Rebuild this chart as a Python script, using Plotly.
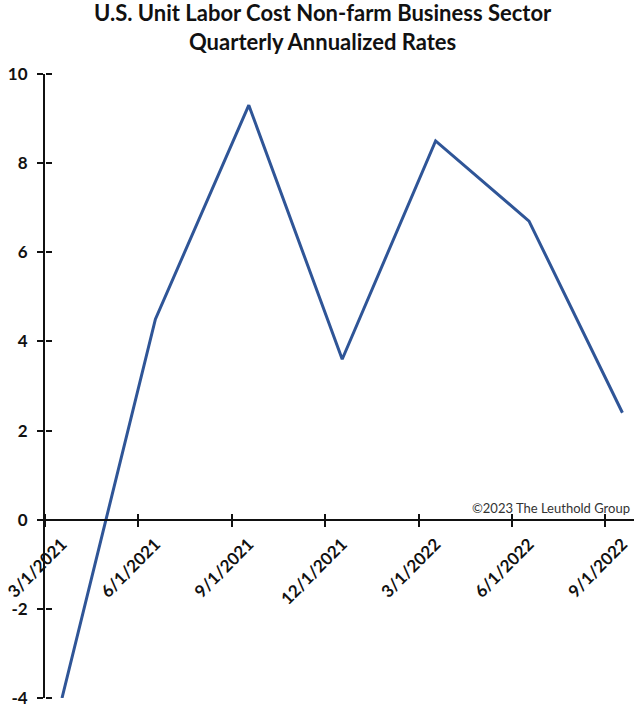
import plotly.graph_objects as go

# Quarterly annualized % change, unit labor cost, non-farm business sector
quarters = ["3/1/2021", "6/1/2021", "9/1/2021", "12/1/2021",
            "3/1/2022", "6/1/2022", "9/1/2022"]
ulc_rate = [-4.0, 4.5, 9.3, 3.6, 8.5, 6.7, 2.4]
y_ticks = [-4, -2, 0, 2, 4, 6, 8, 10]

idx = list(range(len(quarters)))
x_lo, x_hi = -0.182, 6.124
y_lo, y_hi = -4, 10
zero_pos = (0 - y_lo) / (y_hi - y_lo)   # paper position of y = 0
boundary_ticks = [i + x_lo for i in idx]

LINE_BLUE = "#2F5597"
INK = "#111111"
axis_font = dict(family="Lato", size=17, color=INK)

fig = go.Figure()
fig.add_trace(go.Scatter(x=idx, y=ulc_rate, mode="lines",
                         line=dict(color=LINE_BLUE, width=3),
                         showlegend=False, hoverinfo="skip"))
# transparent companions so the extra axes (other half of the crossing
# tick marks) are drawn
fig.add_trace(go.Scatter(x=idx, y=ulc_rate, mode="lines", xaxis="x2", yaxis="y2",
                         line=dict(color="rgba(0,0,0,0)", width=0),
                         showlegend=False, hoverinfo="skip"))
fig.add_trace(go.Scatter(x=idx, y=ulc_rate, mode="lines", xaxis="x3", yaxis="y",
                         line=dict(color="rgba(0,0,0,0)", width=0),
                         showlegend=False, hoverinfo="skip"))

tick_style = dict(ticks="outside", ticklen=6, tickwidth=2, tickcolor=INK)
bare = dict(showticklabels=False, showline=False, showgrid=False, zeroline=False)

fig.update_layout(
    width=634, height=709,
    margin=dict(l=45, r=0, t=74, b=11),
    paper_bgcolor="white", plot_bgcolor="white",
    xaxis=dict(
        range=[x_lo, x_hi], anchor="free", position=zero_pos,
        tickmode="array", tickvals=idx, ticktext=[f"<b>{q}</b>" for q in quarters],
        tickangle=-45, ticks="", tickfont=axis_font, ticklabelstandoff=7,
        showline=True, linecolor=INK, linewidth=2,
        showgrid=False, zeroline=False,
    ),
    xaxis2=dict(
        range=[x_lo, x_hi], overlaying="x", anchor="free", position=zero_pos,
        side="top", tickmode="array", tickvals=boundary_ticks,
        **bare, **tick_style,
    ),
    xaxis3=dict(
        range=[x_lo, x_hi], overlaying="x", anchor="free", position=zero_pos,
        side="bottom", tickmode="array", tickvals=boundary_ticks,
        **bare, **tick_style,
    ),
    yaxis=dict(
        range=[y_lo, y_hi], tickmode="array", tickvals=y_ticks,
        ticktext=[f"<b>{v}</b>" for v in y_ticks],
        tickfont=dict(family="Lato", size=17, color=INK), ticklabelstandoff=6,
        showline=True, linecolor=INK, linewidth=2,
        showgrid=False, zeroline=False,
        **tick_style,
    ),
    yaxis2=dict(
        range=[y_lo, y_hi], overlaying="y", anchor="free", position=0,
        side="right", tickmode="array", tickvals=y_ticks,
        **bare, **tick_style,
    ),
)

fig.add_annotation(
    text="<b>U.S. Unit Labor Cost Non-farm Business Sector</b><br>"
         "<b>Quarterly Annualized Rates</b>",
    xref="paper", yref="paper", x=(323 - 45) / 589, y=1,
    xanchor="center", yanchor="bottom", yshift=17, showarrow=False,
    font=dict(family="Lato", size=22, color=INK),
)

fig.add_annotation(
    text="©2023 The Leuthold Group", xref="paper", yref="y",
    x=0.997, y=0, xanchor="right", yanchor="bottom", yshift=2,
    showarrow=False, font=dict(family="Lato", size=13, color="#333333"),
)

fig.write_html("out.html")
